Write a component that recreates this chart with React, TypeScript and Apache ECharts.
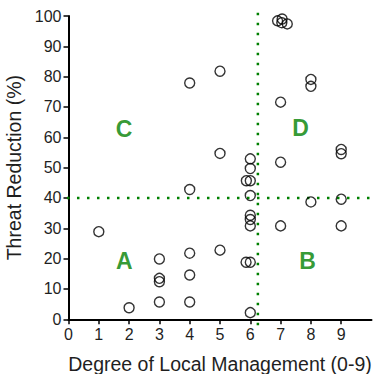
import React, { useEffect, useRef } from "react";
import * as echarts from "echarts";

// Degree of local management (0-9) for each site
const managementScores = [
  1,
  2,
  3, 3, 3, 3,
  4, 4, 4, 4, 4,
  5, 5, 5,
  6, 6, 5.87, 6, 6, 6, 6, 6, 5.86, 6, 6,
  6.9, 7.05, 7.04, 7.22,
  7, 7, 7,
  8, 8, 8,
  9, 9, 9, 9,
];

// Threat reduction (%) for each site
const threatReduction = [
  28.9,
  3.8,
  19.9, 13.5, 12.4, 5.7,
  77.9, 42.8, 21.8, 14.6, 5.7,
  81.8, 54.7, 22.8,
  52.9, 49.7, 45.7, 45.7, 40.8, 34.3, 32.9, 30.8, 18.8, 18.8, 2.2,
  98.4, 99, 97.8, 97.4,
  71.6, 51.8, 30.8,
  79.1, 76.8, 38.7,
  56, 54.6, 39.6, 30.8,
];

// Quadrant letters and their anchor positions
const quadrantNames = ["A", "B", "C", "D"];
const quadrantX = [1.84, 7.89, 1.83, 7.66];
const quadrantY = [19.2, 19.2, 62.8, 63];

// Thresholds that split the plot into quadrants
const managementSplit = 6.25;
const threatSplit = 40;

const xTickValues = [0, 1, 2, 3, 4, 5, 6, 7, 8, 9];

const TEXT = "#1f1f1f";
const GREEN = "#008000";
const SANS = "Liberation Sans";

export default function App() {
  const ref = useRef<HTMLDivElement>(null);

  useEffect(() => {
    if (!ref.current) return;
    const chart = echarts.init(ref.current, null, { renderer: "svg" });

    const points = managementScores.map((x, i) => [x, threatReduction[i]]);
    const letters = quadrantNames.map((n, i) => [quadrantX[i], quadrantY[i], n]);

    chart.setOption({
      animation: false,
      grid: {
        left: 68.5,
        right: 1.5,
        top: 16,
        bottom: 54.7,
        containLabel: false,
        outerBoundsMode: "none",
      },
      xAxis: {
        type: "value",
        min: 0,
        max: 10,
        interval: 1,
        name: "Degree of Local Management (0-9)",
        nameLocation: "middle",
        nameGap: 35,
        nameTextStyle: { fontFamily: SANS, fontSize: 19.5, color: TEXT },
        splitLine: { show: false },
        axisLine: { onZero: false, lineStyle: { color: "#000", width: 2 } },
        axisTick: {
          show: true,
          length: 5,
          customValues: xTickValues,
          lineStyle: { color: "#000", width: 1.5 },
        },
        axisLabel: {
          customValues: xTickValues,
          fontFamily: SANS,
          fontSize: 16,
          color: TEXT,
          margin: 7,
        },
      },
      yAxis: {
        type: "value",
        min: 0,
        max: 100,
        interval: 10,
        name: "Threat Reduction (%)",
        nameLocation: "middle",
        nameGap: 39,
        nameTextStyle: { fontFamily: SANS, fontSize: 19.5, color: TEXT },
        splitLine: { show: false },
        axisLine: { show: true, onZero: false, lineStyle: { color: "#000", width: 2 } },
        axisTick: { show: true, length: 5, lineStyle: { color: "#000", width: 1.5 } },
        axisLabel: { fontFamily: SANS, fontSize: 16, color: TEXT, margin: 7 },
      },
      series: [
        {
          type: "line",
          clip: false,
          symbol: "none",
          silent: true,
          data: [
            [managementSplit, -2],
            [managementSplit, 102],
          ],
          lineStyle: { color: GREEN, width: 2.5, type: [2.5, 7.5] },
          z: 1,
        },
        {
          type: "line",
          clip: false,
          symbol: "none",
          silent: true,
          data: [
            [-0.38, threatSplit],
            [10.05, threatSplit],
          ],
          lineStyle: { color: GREEN, width: 2.5, type: [2.5, 7.5] },
          z: 1,
        },
        {
          type: "scatter",
          data: points,
          symbol: "circle",
          symbolSize: 10,
          itemStyle: { color: "rgba(255,255,255,0)", borderColor: "#000", borderWidth: 1.4 },
          z: 3,
        },
        {
          type: "scatter",
          data: letters,
          symbolSize: 0,
          silent: true,
          label: {
            show: true,
            position: "inside",
            formatter: (p: any) => p.value[2],
            fontFamily: SANS,
            fontWeight: "bold",
            fontSize: 23,
            color: GREEN,
          },
          z: 2,
        },
      ],
    });

    return () => chart.dispose();
  }, []);

  return (
    <div
      ref={ref}
      style={{ position: "fixed", left: 0, top: 0, width: 373, height: 374, background: "#fff" }}
    />
  );
}
